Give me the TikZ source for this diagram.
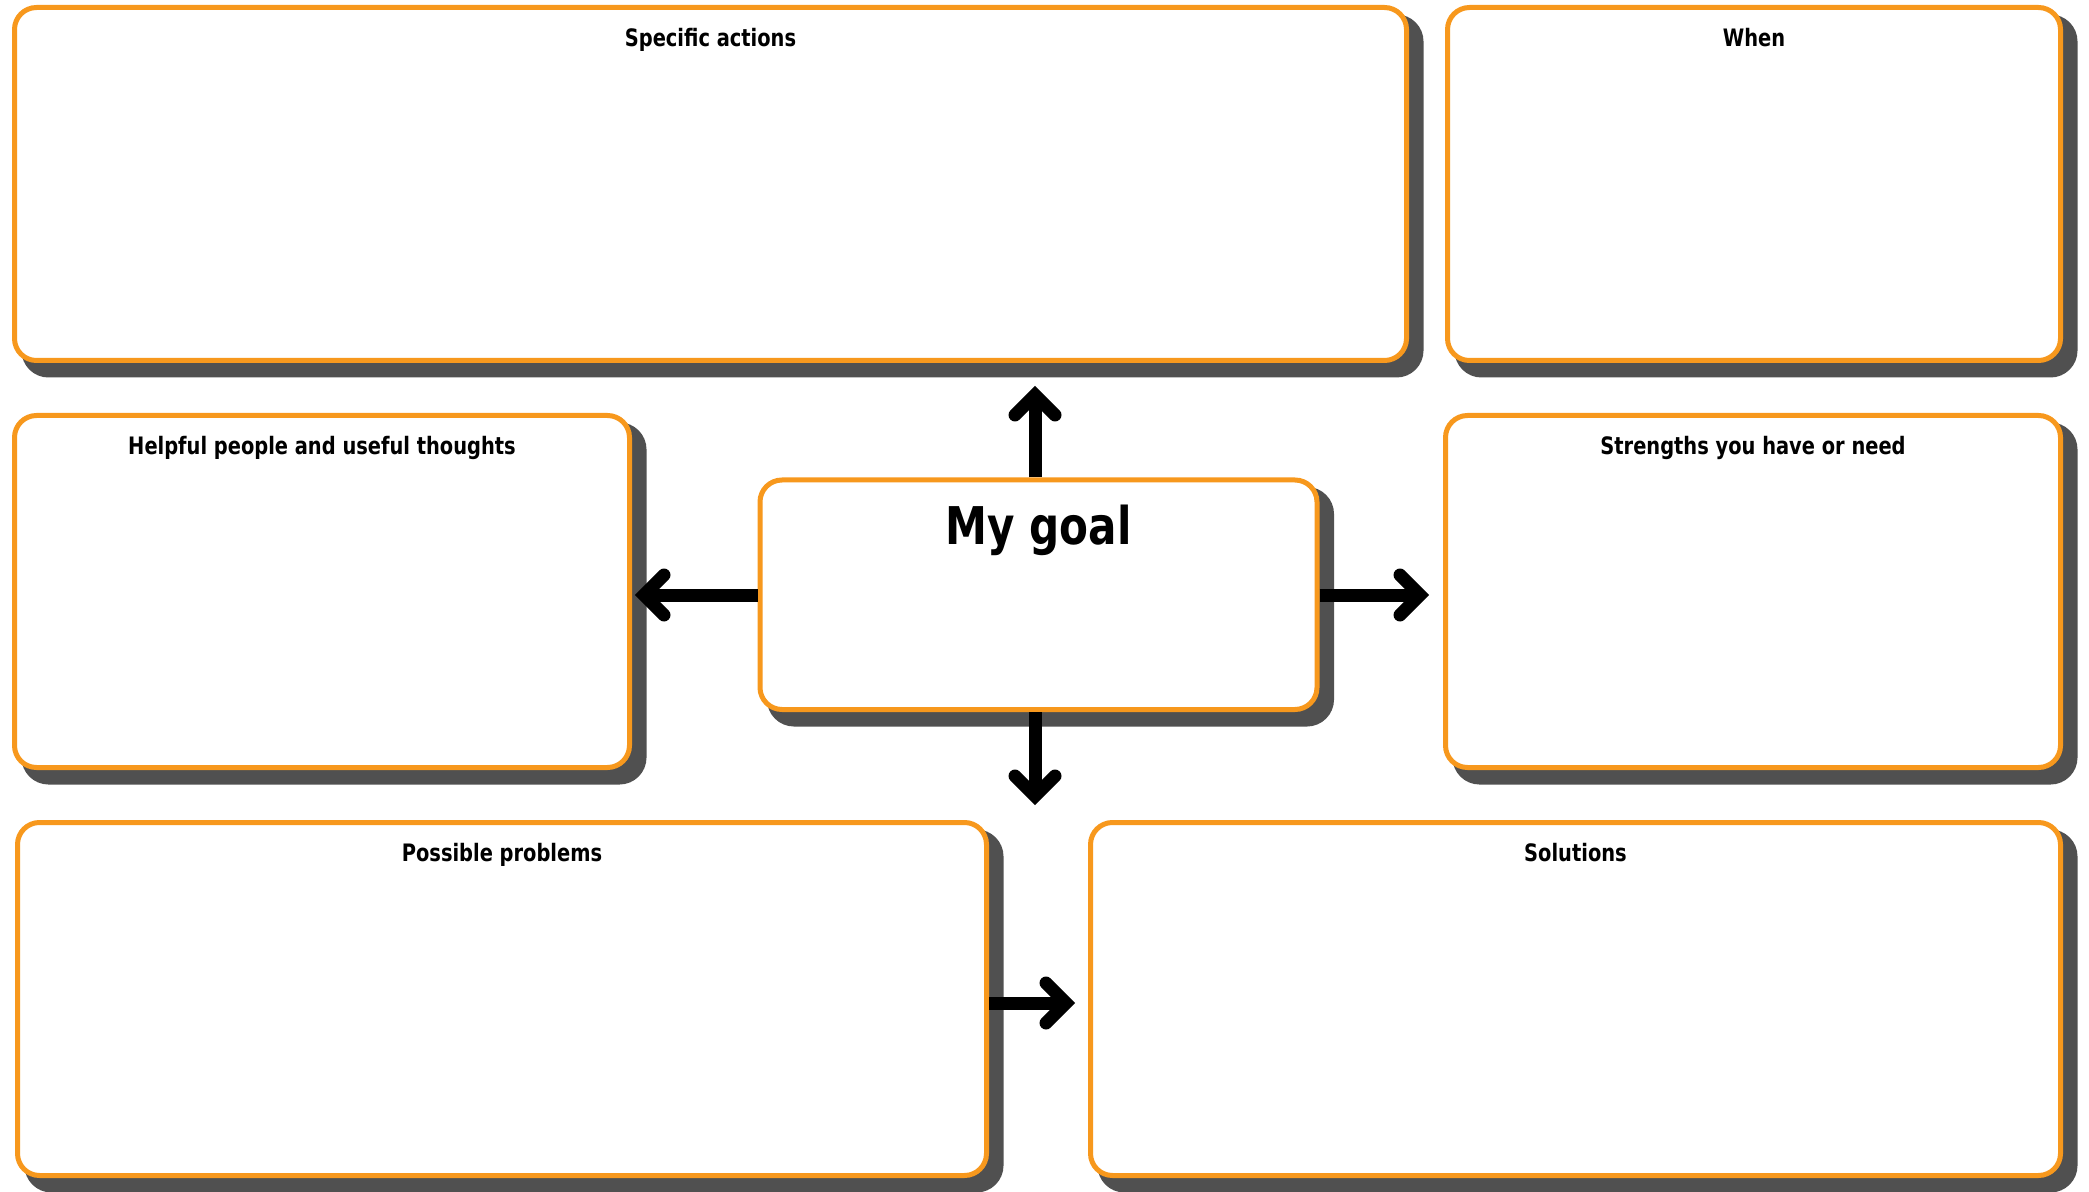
\documentclass[tikz,border=0pt]{standalone}
\usepackage{fontspec}
\newfontfamily\dinfont{DejaVu Sans Condensed}[FakeStretch=0.9]
\usetikzlibrary{calc}
\definecolor{cardorange}{HTML}{F7981D}
\definecolor{shadowgray}{HTML}{505050}
\tikzset{
  card/.style={draw=cardorange, line width=2.5pt, fill=white, rounded corners=11pt,
    inner sep=0pt,
    preaction={draw=shadowgray, fill=shadowgray, line width=5pt,
      transform canvas={shift={(6pt,-6pt)}}}},
  cardtitle/.style={anchor=base, inner sep=0pt, font=\dinfont\bfseries\fontsize{12}{14}\selectfont},
  goaltitle/.style={anchor=base, inner sep=0pt, font=\dinfont\bfseries\fontsize{26}{30}\selectfont},
  conn/.style={line width=6.5pt, line cap=butt, draw=black},
  chev/.style={line width=6.5pt, line cap=round, line join=miter, draw=black}
}
\begin{document}
\begin{tikzpicture}[x=0.5pt,y=-0.5pt]
\useasboundingbox (0,0) rectangle (2089,1192);
% cards
\node[card, minimum width=696pt, minimum height=176.5pt] (spec) at (710.5,184) {};
\node[card, minimum width=306.5pt, minimum height=176.5pt] (when) at (1754,184) {};
\node[card, minimum width=307.5pt, minimum height=176pt] (help) at (322,591.5) {};
\node[card, minimum width=307.5pt, minimum height=176pt] (str) at (1753,591.5) {};
\node[card, minimum width=484.5pt, minimum height=176.5pt] (prob) at (502,999) {};
\node[card, minimum width=485pt, minimum height=176.5pt] (sol) at (1575.5,999) {};
\node[card, minimum width=278.5pt, minimum height=114.75pt] (goal) at (1038.5,594.75) {};
% titles
\node[cardtitle] (specT) at ([yshift=-20.8pt]spec.north) {Specific actions};
\node[cardtitle] (whenT) at ([yshift=-20.8pt]when.north) {When};
\node[cardtitle] (helpT) at ([yshift=-20.8pt]help.north) {Helpful people and useful thoughts};
\node[cardtitle] (strT) at ([yshift=-20.8pt]str.north) {Strengths you have or need};
\node[cardtitle] (probT) at ([yshift=-20.8pt]prob.north) {Possible problems};
\node[cardtitle] (solT) at ([yshift=-20.8pt]sol.north) {Solutions};
\node[goaltitle] (goalT) at ([yshift=-33.75pt]goal.north) {My goal};
% arrow tips (centre-line vertices)
\coordinate (tipU) at (1035,395);
\coordinate (tipD) at (1035,796);
\coordinate (tipR) at (1420,595);
\coordinate (tipL) at (644,595);
\coordinate (tipB) at (1066,1003);
% connectors
\draw[conn] (goal.north -| tipU) -- (tipU);
\draw[chev] ($(tipU)+(-20,20)$) -- (tipU) -- ($(tipU)+(20,20)$);
\draw[conn] (goal.south -| tipD) -- (tipD);
\draw[chev] ($(tipD)+(-20,-20)$) -- (tipD) -- ($(tipD)+(20,-20)$);
\draw[conn] (goal.east |- tipR) -- (tipR);
\draw[chev] ($(tipR)+(-20,-20)$) -- (tipR) -- ($(tipR)+(-20,20)$);
\draw[conn] (goal.west |- tipL) -- (tipL);
\draw[chev] ($(tipL)+(20,-20)$) -- (tipL) -- ($(tipL)+(20,20)$);
\draw[conn] (prob.east |- tipB) -- (tipB);
\draw[chev] ($(tipB)+(-20,-20)$) -- (tipB) -- ($(tipB)+(-20,20)$);
\end{tikzpicture}
\end{document}
